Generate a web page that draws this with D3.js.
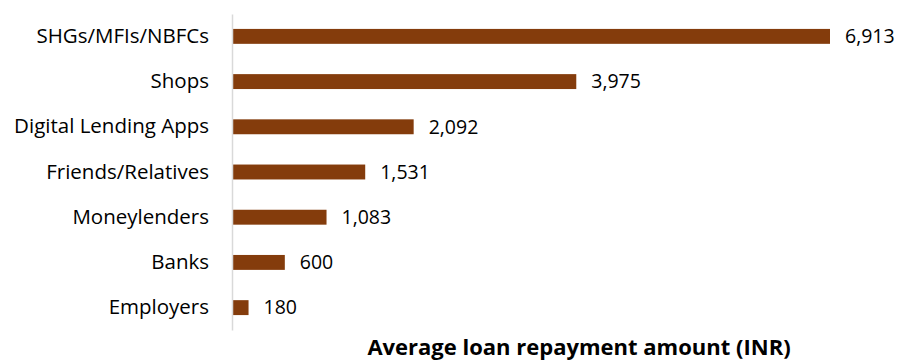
<!DOCTYPE html>
<html>
<head>
<meta charset="utf-8">
<script src="https://cdn.jsdelivr.net/npm/d3@7"></script>
<style>
  body { margin: 0; background: #fff; }
  svg text { font-family: "Open Sans", sans-serif; }
</style>
</head>
<body>
<svg id="chart"></svg>
<script>
const categories = ["SHGs/MFIs/NBFCs", "Shops", "Digital Lending Apps", "Friends/Relatives", "Moneylenders", "Banks", "Employers"];
const values = [6913, 3975, 2092, 1531, 1083, 600, 180];
const axisTitle = "Average loan repayment amount (INR)";

const width = 902;
const height = 362;
const marginLeft = 232;
const marginTop = 14;
const plotBottom = 330;
const barColor = "#843C0C";

const svg = d3.select("#chart")
    .attr("width", width)
    .attr("height", height);

const xScale = d3.scaleLinear()
    .domain([0, 6913])
    .range([marginLeft + 1, 830]);

const yScale = d3.scaleBand()
    .domain(categories)
    .range([marginTop, plotBottom])
    .paddingInner(0.67)
    .paddingOuter(0.33);

// bars
svg.append("g")
    .selectAll("rect")
    .data(values)
    .join("rect")
    .attr("x", xScale(0))
    .attr("y", (d, i) => yScale(categories[i]))
    .attr("width", d => xScale(d) - xScale(0))
    .attr("height", yScale.bandwidth())
    .attr("fill", barColor);

// value labels
const fmt = d3.format(",");
svg.append("g")
    .selectAll("text")
    .data(values)
    .join("text")
    .attr("x", d => xScale(d) + 15)
    .attr("y", (d, i) => yScale(categories[i]) + yScale.bandwidth() / 2)
    .attr("dy", "0.35em")
    .attr("font-size", "19.5px")
    .attr("fill", "#000")
    .text(d => fmt(d));

// category axis
const yAxis = svg.append("g")
    .attr("transform", `translate(${marginLeft}, 0)`)
    .call(d3.axisLeft(yScale).tickSize(0).tickPadding(23));
yAxis.select(".domain").attr("stroke", "#d9d9d9").attr("stroke-width", 1.5);
yAxis.selectAll(".tick text")
    .attr("font-size", "20.5px")
    .attr("fill", "#000")
    .style("font-family", "'Open Sans', sans-serif");

// axis title
svg.append("text")
    .attr("x", 579)
    .attr("y", 355)
    .attr("text-anchor", "middle")
    .attr("font-size", "22px")
    .attr("font-weight", "bold")
    .attr("fill", "#000")
    .text(axisTitle);
</script>
</body>
</html>
